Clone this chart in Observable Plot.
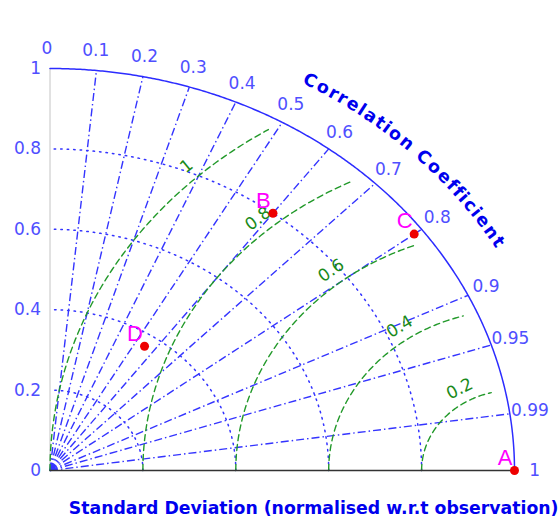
<!DOCTYPE html>
<html><head><meta charset="utf-8">
<script src="https://cdn.jsdelivr.net/npm/d3@7"></script>
<script src="https://cdn.jsdelivr.net/npm/@observablehq/plot@0.6"></script>
<style>body{margin:0;background:#fff;}</style>
</head><body><div id="chart"></div>
<script>
// ---- data ----
const modelNames = ["A", "B", "C", "D"];
const modelStd = [1.0, 0.80, 0.98, 0.37];
const modelCorr = [1.0, 0.60, 0.80, 0.55];
const corrTicks = [0, 0.1, 0.2, 0.3, 0.4, 0.5, 0.6, 0.7, 0.8, 0.9, 0.95, 0.99, 1];
const corrLines = [0.1, 0.2, 0.3, 0.4, 0.5, 0.6, 0.7, 0.8, 0.9, 0.95, 0.99];
const stdTicks = [0, 0.2, 0.4, 0.6, 0.8, 1];
const stdArcs = [0.2, 0.4, 0.6, 0.8];
const rmsLevels = [0.2, 0.4, 0.6, 0.8, 1];
const corrTitle = "Correlation Coefficient";
const xTitle = "Standard Deviation (normalised w.r.t observation)";

// ---- layout ----
const W = 560, H = 521;
const mL = 49.5, mR = 46, mT = 68, mB = 51;
const ax = W - mL - mR, by = H - mT - mB;
const deg = Math.PI / 180;
const fmt = d3.format("~g");

// grid geometry (sampled curves)
const stdPts = [];
for (const r of stdArcs) for (let t = 0; t <= 90; t += 0.5)
  stdPts.push({r, x: r * Math.cos(t * deg), y: r * Math.sin(t * deg)});
const outerPts = [];
for (let t = 0; t <= 90; t += 0.25) outerPts.push({x: Math.cos(t * deg), y: Math.sin(t * deg)});

const rmsPts = [];
for (const rho of rmsLevels) {
  for (let p = 180; p >= 0; p -= 0.5) {
    const x = 1 + rho * Math.cos(p * deg), y = rho * Math.sin(p * deg);
    if (Math.hypot(x, y) > 0.97) break;
    rmsPts.push({rho, x, y});
  }
}
const rmsLab = rmsLevels.map(rho => {
  const phi = (133 - 18 * Math.pow(1 - rho, 1.5)) * deg;
  const d = rho + 0.035;
  return {rho, x: 1 + d * Math.cos(phi), y: d * Math.sin(phi),
    rot: Math.atan2(by * Math.cos(phi), ax * Math.sin(phi)) / deg};
});

const models = modelNames.map((n, i) => ({
  name: n,
  x: modelStd[i] * modelCorr[i],
  y: modelStd[i] * Math.sqrt(1 - modelCorr[i] ** 2)
}));

// curved title letters
const ctx = document.createElement("canvas").getContext("2d");
ctx.font = "bold 17px 'DejaVu Sans'";
const chars = [...corrTitle];
const widths = chars.map(ch => ctx.measureText(ch).width);
let acc = 0;
const centers = widths.map(w => { const c = acc + w / 2; acc += w; return c; });
const R = 1.12, th0 = 60, th1 = 30.5;
const samples = []; let L = 0, prev = null;
for (let k = 0; k <= 1000; k++) {
  const th = th0 + (th1 - th0) * k / 1000;
  const sx = ax * R * Math.cos(th * deg), sy = by * R * Math.sin(th * deg);
  if (prev) L += Math.hypot(sx - prev[0], sy - prev[1]);
  samples.push({th, L}); prev = [sx, sy];
}
const c0 = centers[0], c1 = centers[centers.length - 1];
const letters = chars.map((ch, i) => {
  const s = (centers[i] - c0) / (c1 - c0) * L;
  let j = samples.findIndex(o => o.L >= s); if (j < 0) j = samples.length - 1;
  const th = samples[j].th * deg;
  return {ch, x: R * Math.cos(th), y: R * Math.sin(th),
    rot: Math.atan2(by * Math.cos(th), ax * Math.sin(th)) / deg};
});

const blue = "#3434ff", lblBlue = "#4f4fff", green = "#22992a";

const chart = Plot.plot({
  width: W, height: H,
  marginLeft: mL, marginRight: mR, marginTop: mT, marginBottom: mB,
  x: {domain: [0, 1], axis: null},
  y: {domain: [0, 1], axis: null},
  style: {fontFamily: "DejaVu Sans", background: "#fff"},
  marks: [
    Plot.ruleX([0], {y1: 0, y2: 1, stroke: "#c4c4c4", strokeWidth: 1}),
    Plot.line(stdPts, {x: "x", y: "y", z: "r", stroke: blue, strokeWidth: 1.5, strokeDasharray: "1.5,5"}),
    Plot.link(corrLines, {x1: 0, y1: 0, x2: c => c, y2: c => Math.sqrt(1 - c * c),
      stroke: blue, strokeWidth: 1.4, strokeDasharray: "8,3,1.5,3"}),
    Plot.line(rmsPts, {x: "x", y: "y", z: "rho", stroke: green, strokeWidth: 1.4, strokeDasharray: "6,4"}),
    Plot.line(outerPts, {x: "x", y: "y", stroke: "#2c2cff", strokeWidth: 1.5}),
    Plot.ruleY([0], {x1: 0, x2: 1, stroke: "#333", strokeWidth: 1.5}),
    Plot.text(rmsLab, {x: "x", y: "y", text: d => fmt(d.rho), rotate: "rot",
      fill: "#1a8a1a", fontSize: 17}),
    Plot.text(corrTicks, {x: c => 1.05 * c, y: c => 1.05 * Math.sqrt(1 - c * c), text: c => fmt(c),
      fill: lblBlue, fontSize: 17, dx: -3}),
    Plot.text(stdTicks, {x: 0, y: d => d, text: d => fmt(d), textAnchor: "end", dx: -9,
      fill: lblBlue, fontSize: 17}),
    Plot.text(letters, {x: "x", y: "y", text: "ch", rotate: "rot", fill: "#0000ee",
      fontSize: 17.5, fontWeight: "bold"}),
    Plot.dot(models, {x: "x", y: "y", r: 4.5, fill: "#ee0000"}),
    Plot.text(models, {x: "x", y: "y", text: "name", fill: "#ff00ff", fontSize: 22,
      fontFamily: "Liberation Sans", dx: -9.5, dy: -12.7}),
    Plot.text([xTitle], {frameAnchor: "bottom-left", lineAnchor: "middle", textAnchor: "start",
      dx: 18.8, dy: 37.5, fill: "#0000ee", fontSize: 17.3, fontWeight: "bold"})
  ]
});
document.getElementById("chart").appendChild(chart);
</script>
</body></html>
